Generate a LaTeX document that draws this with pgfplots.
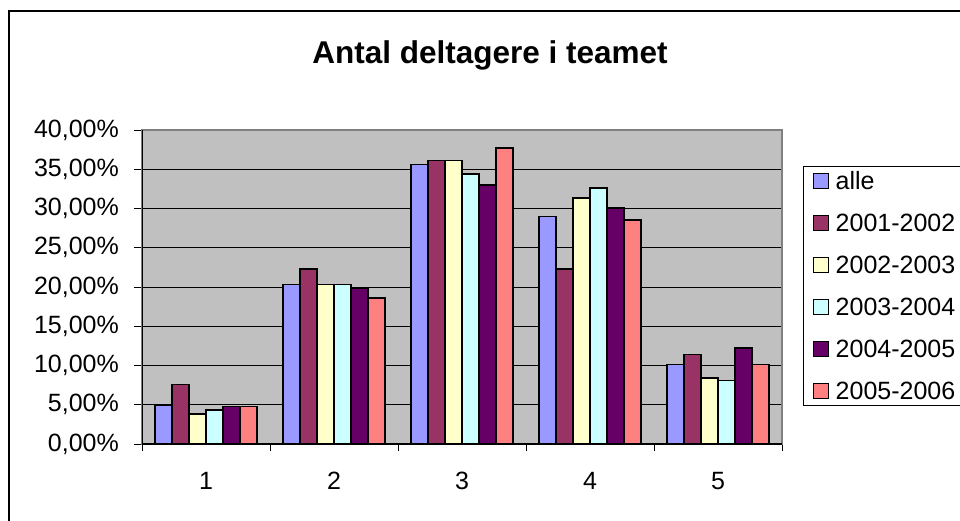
\documentclass[border=0pt]{standalone}
\usepackage{pgfplots}
\pgfplotsset{compat=1.18}
\usepackage{fontspec}
\setmainfont{Liberation Sans}
\definecolor{cA}{HTML}{9999FF}
\definecolor{cB}{HTML}{993366}
\definecolor{cC}{HTML}{FFFFCC}
\definecolor{cD}{HTML}{CCFFFF}
\definecolor{cE}{HTML}{660066}
\definecolor{cF}{HTML}{FF8080}
\definecolor{bgG}{HTML}{C0C0C0}
\definecolor{brd}{HTML}{808080}
\begin{document}
\begin{tikzpicture}[x=1pt,y=1pt]
\useasboundingbox (0,0) rectangle (960,520);
\fill[white] (0,0) rectangle (960,520);
\draw[line width=2pt] (9,-20) -- (9,509) -- (990,509);
\node[anchor=base, font=\fontsize{31.5}{36}\selectfont\bfseries] at (490,456) {Antal deltagere i teamet};
\begin{axis}[
  at={(142pt,76pt)}, anchor=south west,
  scale only axis, width=640pt, height=314pt,
  xmin=0.5, xmax=5.5, ymin=0, ymax=40,
  ybar=0pt, bar width=17.07pt,
  xtick={1,2,3,4,5}, xticklabels={1,2,3,4,5},
  major x tick style={draw=none},
  minor xtick={0.5,1.5,2.5,3.5,4.5,5.5},
  minor tick length=7pt, major tick length=8pt,
  ytick={0,5,10,15,20,25,30,35,40},
  yticklabels={{0,00\%},{5,00\%},{10,00\%},{15,00\%},{20,00\%},{25,00\%},{30,00\%},{35,00\%},{40,00\%}},
  tick align=outside, tick pos=left,
  tick style={black, line width=1pt},
  ymajorgrids, grid style={black, line width=1pt},
  axis background/.style={fill=bgG},
  axis line style={draw=brd, line width=1.5pt},
  ticklabel style={font=\fontsize{25}{30}\selectfont},
  yticklabel style={anchor=east, inner sep=0pt, xshift=-15pt},
  xticklabel style={anchor=north, inner sep=0pt, yshift=-20pt},
  legend style={draw=black, line width=1pt, fill=white,
    at={(1.0328,0.8854)}, anchor=north west,
    font=\fontsize{25}{30}\selectfont,
    inner xsep=9pt, inner ysep=5pt, row sep=23pt,
    nodes={inner sep=0pt},
    /tikz/every odd column/.append style={column sep=7pt}},
  legend cell align=left,
  legend image code/.code={\draw[#1, line width=1.2pt] (0pt,-7pt) rectangle (15pt,8pt);},
]
\addplot[fill=cA, draw=black, line width=1.6pt] coordinates {(1,5.0) (2,20.3) (3,35.6) (4,29.0) (5,10.15)};
\addlegendentry{alle}
\addplot[fill=cB, draw=black, line width=1.6pt] coordinates {(1,7.6) (2,22.3) (3,36.1) (4,22.3) (5,11.4)};
\addlegendentry{2001-2002}
\addplot[fill=cC, draw=black, line width=1.6pt] coordinates {(1,3.8) (2,20.3) (3,36.1) (4,31.3) (5,8.4)};
\addlegendentry{2002-2003}
\addplot[fill=cD, draw=black, line width=1.6pt] coordinates {(1,4.3) (2,20.3) (3,34.4) (4,32.6) (5,8.1)};
\addlegendentry{2003-2004}
\addplot[fill=cE, draw=black, line width=1.6pt] coordinates {(1,4.8) (2,19.8) (3,33.0) (4,30.1) (5,12.2)};
\addlegendentry{2004-2005}
\addplot[fill=cF, draw=black, line width=1.6pt] coordinates {(1,4.8) (2,18.6) (3,37.7) (4,28.5) (5,10.15)};
\addlegendentry{2005-2006}
\draw[black, line width=1.2pt] (axis cs:0.5,40) -- (axis cs:0.5,0) -- (axis cs:5.5,0);
\end{axis}
\end{tikzpicture}
\end{document}
